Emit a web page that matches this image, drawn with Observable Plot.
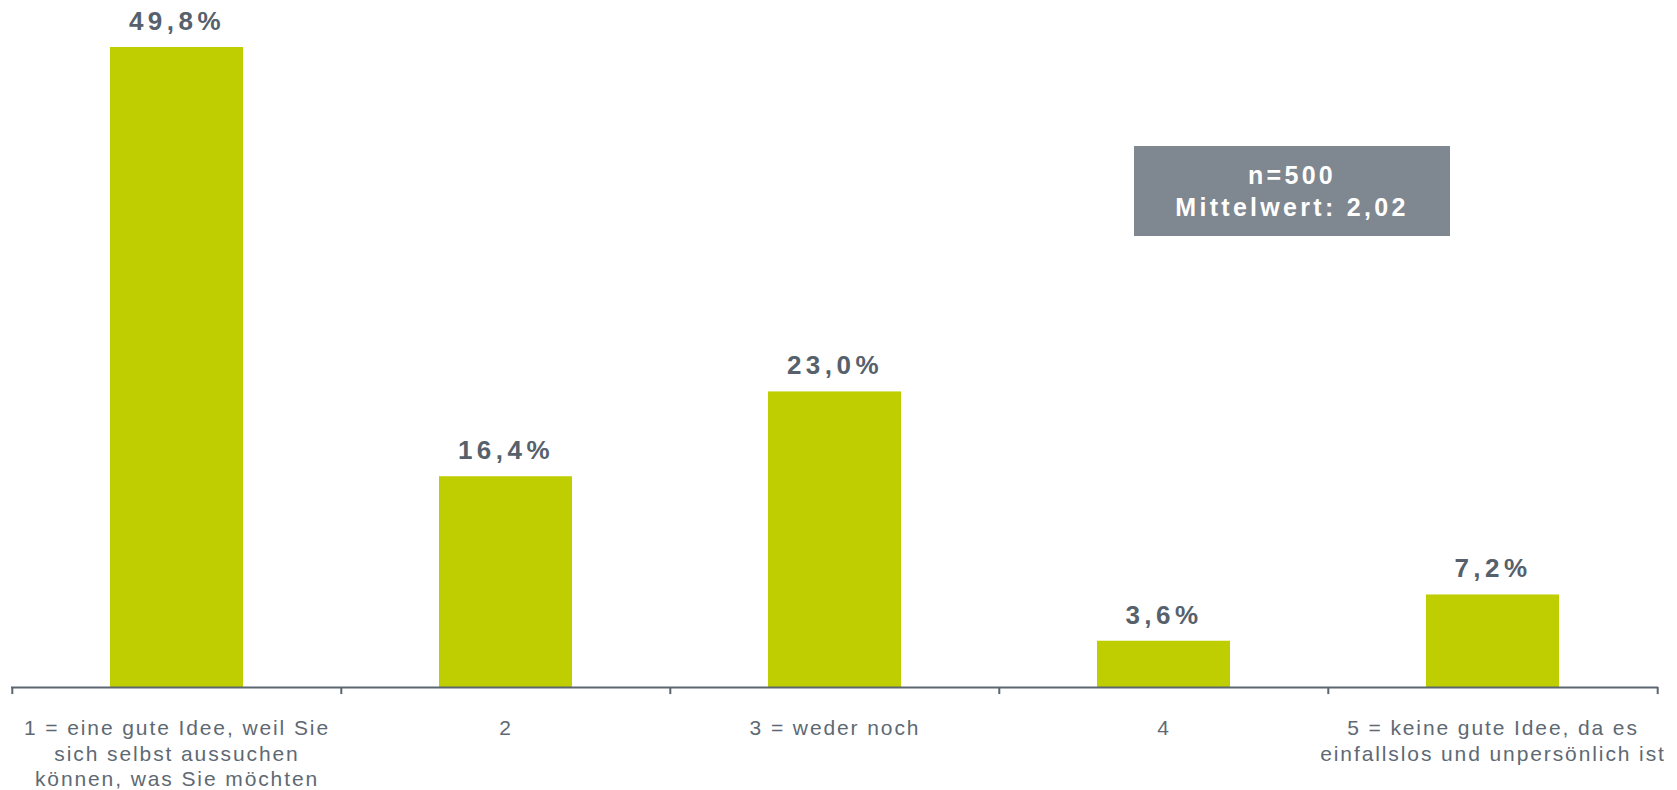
<!DOCTYPE html>
<html>
<head>
<meta charset="utf-8">
<script src="https://cdn.jsdelivr.net/npm/d3@7"></script>
<script src="https://cdn.jsdelivr.net/npm/@observablehq/plot@0.6"></script>
<style>
  html, body { margin: 0; padding: 0; background: #fff; }
  #wrap { position: relative; width: 1677px; height: 790px; font-family: "Liberation Sans", Arial, sans-serif; }
  #box { position: absolute; left: 1134px; top: 146px; width: 316px; height: 90px; background: #7f8790;
         color: #fff; font-weight: bold; font-size: 25px; letter-spacing: 3.3px; line-height: 32px;
         display: flex; flex-direction: column; justify-content: center; align-items: center; }
</style>
</head>
<body>
<div id="wrap"><div id="box"></div></div>
<script>
const categories = [
  "1 = eine gute Idee, weil Sie\nsich selbst aussuchen\nkönnen, was Sie möchten",
  "2",
  "3 = weder noch",
  "4",
  "5 = keine gute Idee, da es\neinfallslos und unpersönlich ist"
];
const values = [49.8, 16.4, 23.0, 3.6, 7.2];
const valueLabels = ["49,8%", "16,4%", "23,0%", "3,6%", "7,2%"];
const boxLines = ["n=500", "Mittelwert: 2,02"];

const data = categories.map((c, i) => ({key: c, value: values[i], label: valueLabels[i]}));

const W = 1677, H = 790, mL = 11, mR = 19;
const step = (W - mL - mR) / categories.length;
const axisColor = "#5b6670";

const chart = Plot.plot({
  width: W, height: H,
  marginLeft: mL, marginRight: mR, marginTop: 47, marginBottom: 103,
  style: {fontFamily: "'Liberation Sans', Arial, sans-serif", background: "transparent"},
  x: {domain: categories, padding: 0, axis: null},
  y: {domain: [0, 49.8], axis: null},
  marks: [
    Plot.barY(data, {x: "key", y: "value", fill: "#bfce00", insetLeft: 98, insetRight: 98}),
    Plot.ruleY([0], {stroke: axisColor, strokeWidth: 2}),
    Plot.ruleX(categories, {x: d => d, y1: 0, y2: -0.55, dx: -step / 2, stroke: axisColor, strokeWidth: 2}),
    Plot.ruleX([categories[categories.length - 1]], {x: d => d, y1: 0, y2: -0.55, dx: step / 2, stroke: axisColor, strokeWidth: 2}),
    Plot.text(data, {x: "key", y: "value", text: "label", dy: -26, lineAnchor: "middle",
      fontSize: 26, fontWeight: "bold", fill: "#56616c"}),
    Plot.text(data, {x: "key", y: 0, text: "key", lineAnchor: "top", dy: 29.5, lineHeight: 1.22,
      fontSize: 21, fill: "#5e6973"})
  ]
});

const texts = chart.querySelectorAll("g[aria-label=text]");
if (texts[0]) texts[0].setAttribute("letter-spacing", "4.5px");
if (texts[1]) texts[1].setAttribute("letter-spacing", "1.9px");

const wrap = document.getElementById("wrap");
wrap.insertBefore(chart, wrap.firstChild);
const box = document.getElementById("box");
boxLines.forEach(t => { const d = document.createElement("div"); d.textContent = t; box.appendChild(d); });
</script>
</body>
</html>
